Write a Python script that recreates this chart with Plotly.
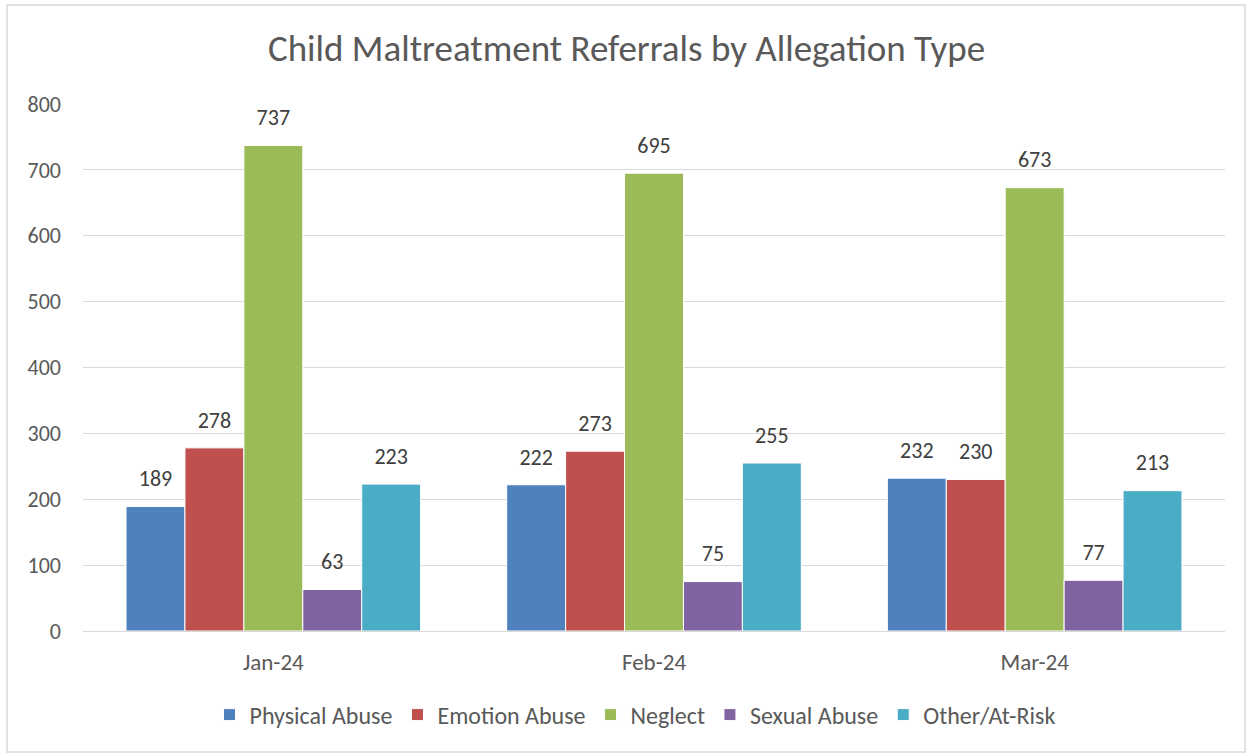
import plotly.graph_objects as go

months = ["Jan-24", "Feb-24", "Mar-24"]
series_names = ["Physical Abuse", "Emotion Abuse", "Neglect", "Sexual Abuse", "Other/At-Risk"]
physical = [189, 222, 232]
emotion = [278, 273, 230]
neglect = [737, 695, 673]
sexual = [63, 75, 77]
other = [223, 255, 213]
colors = ["#4F81BD", "#C0504D", "#9BBB59", "#8064A2", "#4BACC6"]

FONT = "Carlito, Lato, 'Open Sans', sans-serif"
GAP = 0.226

fig = go.Figure()
all_vals = [physical, emotion, neglect, sexual, other]
for i, (name, vals, col) in enumerate(zip(series_names, all_vals, colors)):
    fig.add_trace(go.Bar(
        x=months, y=vals, name=name,
        marker=dict(color=col, line=dict(color="white", width=1)),
        offsetgroup=str(i),
    ))
for i, (name, vals) in enumerate(zip(series_names, all_vals)):
    fig.add_trace(go.Scatter(
        x=months, y=vals, name=name + " labels", mode="markers+text",
        marker=dict(size=22, color="rgba(0,0,0,0)"),
        text=[str(v) for v in vals], textposition="top center",
        textfont=dict(size=22, color="#404040", family=FONT),
        showlegend=False, hoverinfo="skip", cliponaxis=False,
        offsetgroup=str(i),
    ))

L, R, T, B = 83, 1225, 104, 631
W, H = 1253, 756
pw, ph = R - L, B - T

fig.update_layout(
    width=W, height=H,
    margin=dict(l=L, r=W - R, t=T, b=H - B),
    paper_bgcolor="white", plot_bgcolor="white",
    barmode="group", bargap=GAP, bargroupgap=0,
    scattermode="group", scattergap=GAP,
    title=dict(text="Child Maltreatment Referrals by Allegation Type",
               x=0.5, xanchor="center", y=1 - 48 / H, yanchor="middle",
               font=dict(size=37, color="#595959", family=FONT)),
    font=dict(family=FONT, color="#595959", size=21),
    xaxis=dict(showgrid=False, showline=False, ticks="",
               tickfont=dict(size=23, color="#595959"), ticklabelstandoff=15),
    yaxis=dict(range=[0, 800], dtick=100, showgrid=True, gridcolor="#D9D9D9",
               gridwidth=1, zeroline=True, zerolinecolor="#D9D9D9", zerolinewidth=1,
               showline=False, ticks="", tickfont=dict(size=22, color="#595959"),
               ticklabelstandoff=21),
    legend=dict(orientation="h", x=(635 - L) / pw, xanchor="center",
                y=(B - 715) / ph, yanchor="middle",
                font=dict(size=24, color="#595959"), itemwidth=30,
                traceorder="normal"),
    showlegend=True,
    shapes=[dict(type="rect", xref="paper", yref="paper",
                 x0=(7 - L) / pw, x1=(1245 - L) / pw,
                 y0=(B - 752) / ph, y1=(B - 5) / ph,
                 line=dict(color="#D9D9D9", width=1.5), fillcolor="rgba(0,0,0,0)",
                 layer="below")],
)

fig.write_html("out.html", config={"displayModeBar": False},
               post_script="document.body.style.margin='0';")
